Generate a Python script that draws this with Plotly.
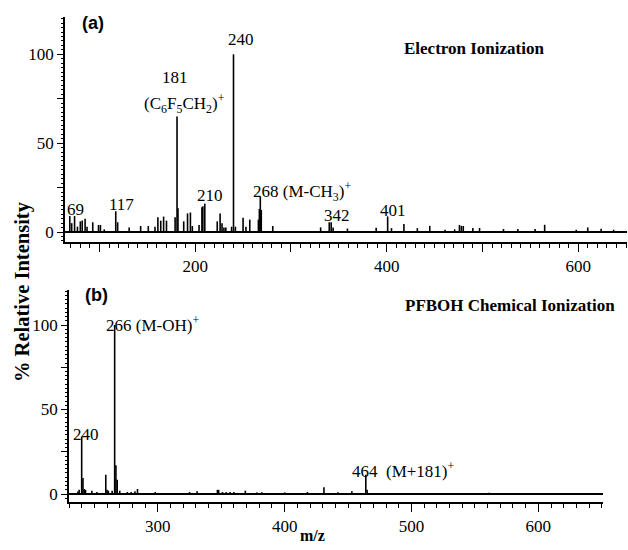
import plotly.graph_objects as go

# ---------------- data ----------------
ei_mz = [69, 71, 74, 77, 80, 82, 85, 87, 93, 99, 101, 105, 117, 119, 131, 143, 151, 158,
         161, 164, 167, 170, 179, 181, 182, 188, 192, 195, 197, 204, 207, 208, 210, 223,
         226, 228, 230, 232, 238, 240, 242, 250, 253, 257, 266, 267, 268, 269, 281, 331,
         340, 342, 344, 359, 389, 401, 405, 418, 432, 445, 461, 471, 476, 478, 480, 490,
         497, 522, 537, 555, 565, 598, 610, 624, 637]
ei_int = [9, 5, 9, 3, 6, 6.5, 7.5, 3, 5.5, 4, 4, 1.5, 11.7, 5.5, 2.6, 3.4, 3.4, 3,
          8.3, 6.4, 8.7, 6.4, 8.3, 65, 13.4, 6, 10.5, 11, 3.4, 4, 14, 14.5, 16, 6,
          10.5, 5, 2.6, 2.6, 3, 100, 3, 8, 3, 7, 7, 13, 20, 12.4, 3.4, 2.6,
          5.5, 5.5, 2.6, 2, 2.4, 8.8, 2.2, 4.5, 2.2, 3.5, 1.3, 1.5, 4, 3.5, 3.4, 2.3,
          2.3, 1.7, 1.7, 1.7, 4.1, 1.3, 2.6, 1.9, 1.3]

ci_mz = [237, 238, 240, 241, 242, 243, 248, 252, 259, 260, 261, 264, 266, 267, 268, 270,
         276, 279, 282, 284, 298, 325, 331, 347, 348, 351, 354, 357, 360, 369, 378, 382,
         400, 418, 431, 442, 453, 464, 465, 561]
ci_int = [1.5, 2.5, 34, 9.5, 3, 2.5, 2, 1.2, 11.4, 2.5, 2, 2, 100, 17, 8.5, 2,
          1.2, 1.2, 1.6, 3, 1.2, 1.2, 1.6, 2.5, 2.5, 1.2, 1.2, 1.2, 1.2, 2, 1, 1,
          1, 1.2, 4, 1, 1.6, 11.4, 2.5, 0.8]

ei_ticks = [100, 200, 300, 400, 500, 600]
ei_ticktext = ["", "200", "", "400", "", "600"]
ci_ticks = [300, 400, 500, 600]
y_ticks = [0, 25, 50, 75, 100]
y_ticktext = ["0", "", "50", "", "100"]

# peak labels: (text, m/z position, intensity position)
ei_labels = [("69", 74.5, 12.9), ("117", 123.3, 15.5), ("181", 178.5, 87.0),
             ("(C<sub>6</sub>F<sub>5</sub>CH<sub>2</sub>)<sup>+</sup>", 188.4, 72.5),
             ("240", 247.5, 108.3), ("210", 215.6, 20.3),
             ("268 (M-CH<sub>3</sub>)<sup>+</sup>", 311.8, 22.8),
             ("342", 348.3, 9.3), ("401", 406.4, 12.1)]
ci_labels = [("266 (M-OH)<sup>+</sup>", 295.9, 100.3), ("240", 243.4, 35.2),
             ("464  (M+181)<sup>+</sup>", 493.8, 14.5)]


def sticks(mz, inten):
    xs, ys = [], []
    for m, v in zip(mz, inten):
        xs += [m, m, None]
        ys += [0, v, None]
    return xs, ys


SERIF = "Liberation Serif"
SANS = "Liberation Sans"

fig = go.Figure()
x1, y1 = sticks(ei_mz, ei_int)
x2, y2 = sticks(ci_mz, ci_int)
fig.add_trace(go.Scatter(x=x1, y=y1, mode="lines", line=dict(color="black", width=1.6),
                         xaxis="x", yaxis="y", hoverinfo="skip", showlegend=False))
fig.add_trace(go.Scatter(x=x2, y=y2, mode="lines", line=dict(color="black", width=1.6),
                         xaxis="x2", yaxis="y2", hoverinfo="skip", showlegend=False))

W, H = 628, 550

xcommon = dict(showgrid=False, zeroline=False, showline=True, linecolor="black", linewidth=1.6,
               automargin=False,
               ticks="outside", ticklen=8, tickwidth=1.3, tickcolor="black",
               tickfont=dict(family=SERIF, size=17, color="black"),
               minor=dict(tickmode="linear", tick0=0, dtick=10, ticks="outside", ticklen=4,
                          tickwidth=1, tickcolor="black"))
ycommon = dict(showgrid=False, zeroline=True, zerolinecolor="black", zerolinewidth=1.8,
               showline=True, linecolor="black", linewidth=1.6, automargin=False,
               tickmode="array", tickvals=y_ticks, ticktext=y_ticktext,
               ticks="outside", ticklen=6, tickwidth=1.3, tickcolor="black",
               tickfont=dict(family=SERIF, size=17, color="black"),
               minor=dict(tickmode="linear", tick0=0, dtick=2.5, ticks="outside", ticklen=2.5,
                          tickwidth=1, tickcolor="black"))

fig.update_layout(
    width=W, height=H, margin=dict(l=0, r=0, t=0, b=0, pad=0), autosize=False,
    paper_bgcolor="white", plot_bgcolor="white", showlegend=False,
    xaxis=dict(xcommon, domain=[65 / W, 627 / W], range=[64, 651], anchor="y",
               tickmode="array", tickvals=ei_ticks, ticktext=ei_ticktext),
    yaxis=dict(ycommon, domain=[1 - 242 / H, 1 - 17 / H], range=[-5.6, 121], anchor="x"),
    xaxis2=dict(xcommon, domain=[69 / W, 603 / W], range=[230, 651], anchor="y2",
                tickmode="array", tickvals=ci_ticks),
    yaxis2=dict(ycommon, domain=[1 - 502 / H, 1 - 290 / H], range=[-4.7, 120.7], anchor="x2"),
)

ann = []
for t, xm, yv in ei_labels:
    ann.append(dict(text=t, x=xm, y=yv, xref="x", yref="y", showarrow=False,
                    xanchor="center", yanchor="middle",
                    font=dict(family=SERIF, size=17, color="black")))
for t, xm, yv in ci_labels:
    ann.append(dict(text=t, x=xm, y=yv, xref="x2", yref="y2", showarrow=False,
                    xanchor="center", yanchor="middle",
                    font=dict(family=SERIF, size=17, color="black")))


def paper_text(text, px, py, family, size, angle=0):
    return dict(text=text, x=px / W, y=1 - py / H, xref="paper", yref="paper",
                xanchor="center", yanchor="middle", showarrow=False, textangle=angle,
                font=dict(family=family, size=size, color="black"))


ann += [
    paper_text("<b>(a)</b>", 92.5, 23, SANS, 18),
    paper_text("<b>(b)</b>", 96.5, 295, SANS, 18),
    paper_text("<b>Electron Ionization</b>", 474, 48, SERIF, 17),
    paper_text("<b>PFBOH Chemical Ionization</b>", 510, 305, SERIF, 17),
    paper_text("<b>% Relative Intensity</b>", 22, 292, SERIF, 20.5, angle=-90),
    paper_text("<b>m/z</b>", 312, 535, SERIF, 16),
]
fig.update_layout(annotations=ann)

fig.write_html("out.html", config={"displayModeBar": False},
               post_script="document.body.style.margin='0';document.body.style.overflow='hidden';")
